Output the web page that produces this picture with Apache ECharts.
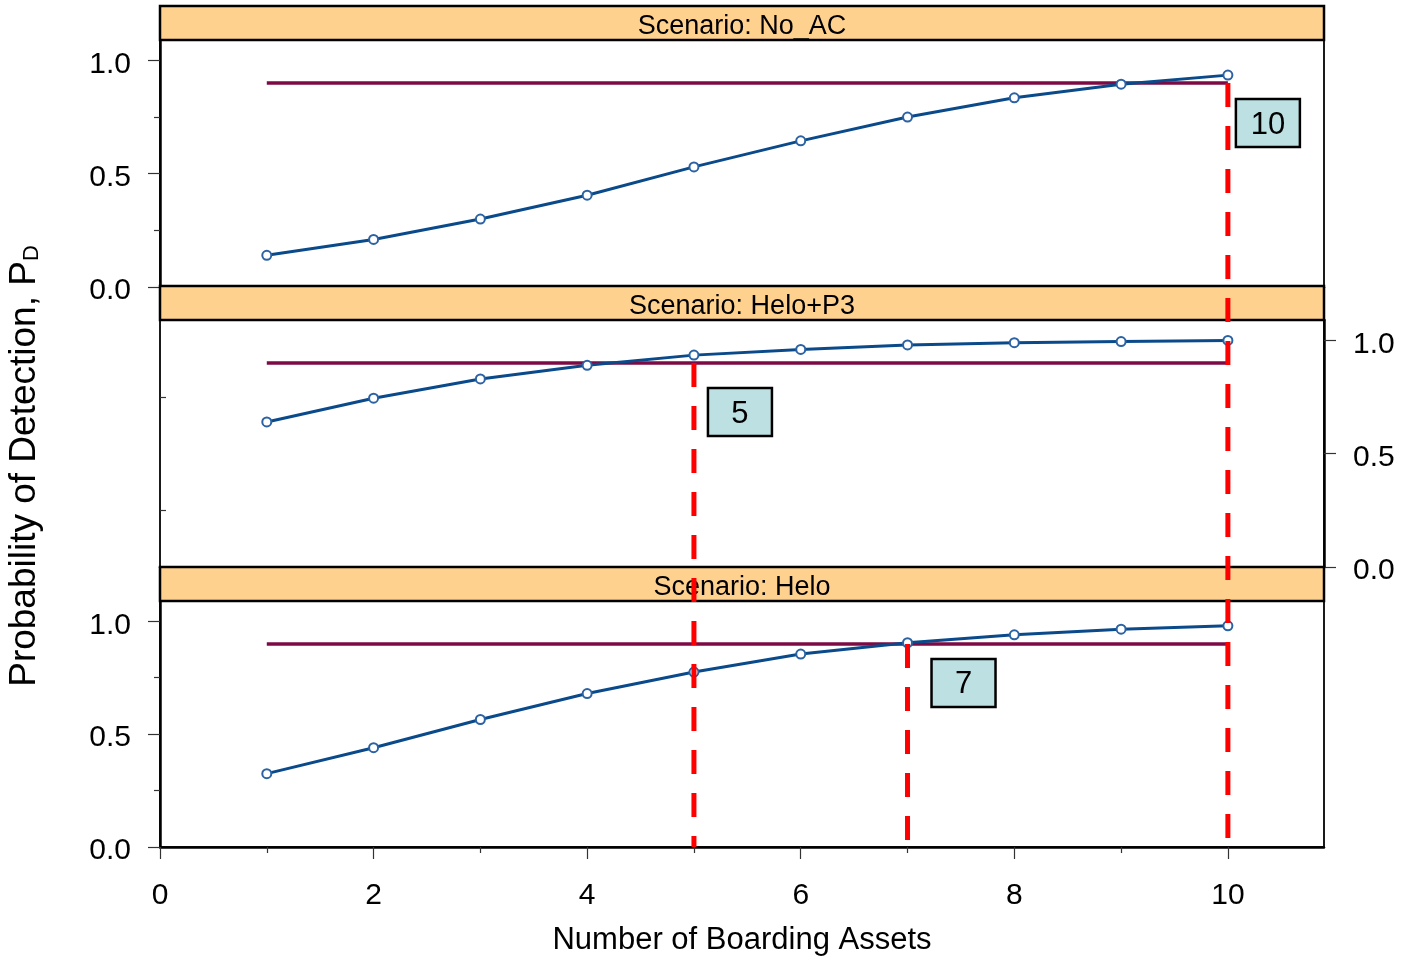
<!DOCTYPE html>
<html>
<head>
<meta charset="utf-8">
<title>Probability of Detection vs Number of Boarding Assets</title>
<script src="https://cdn.jsdelivr.net/npm/echarts@6/dist/echarts.min.js"></script>
<style>
  html, body { margin: 0; padding: 0; background: #ffffff; }
  #chart { width: 1402px; height: 959px; }
</style>
</head>
<body>
<div id="chart"></div>
<script>
// ---- data ----
const assets = [1, 2, 3, 4, 5, 6, 7, 8, 9, 10];
const pdNoAC   = [0.14, 0.21, 0.30, 0.405, 0.53, 0.645, 0.75, 0.835, 0.895, 0.935];
const pdHeloP3 = [0.64, 0.745, 0.83, 0.89, 0.935, 0.96, 0.98, 0.99, 0.995, 1.0];
const pdHelo   = [0.325, 0.44, 0.565, 0.68, 0.775, 0.855, 0.905, 0.94, 0.965, 0.98];
const targetPd = 0.9;
const panelTitles = ['Scenario: No_AC', 'Scenario: Helo+P3', 'Scenario: Helo'];
const xMajorTicks = [0, 2, 4, 6, 8, 10];
const xMinorTicks = [1, 3, 5, 7, 9];
const yMajorTicks = [0, 0.5, 1.0];
const yMinorTicks = [0.25, 0.75];
// assets needed to reach the target, and the panel whose target line the marker starts from
const requiredAssets = [10, 5, 7];
const requiredFromPanel = [0, 1, 2];

// ---- layout / style ----
const FONT = '"Liberation Sans", Arial, Helvetica, sans-serif';
const X_MAX = 10.9, Y_MAX = 1.09;
const PLOT_LEFT = 160, PLOT_WIDTH = 1164;
const panels = [
  { top: 40,  height: 247, yPos: 'left'  },
  { top: 320, height: 247, yPos: 'right' },
  { top: 601, height: 246, yPos: 'left'  }
];
const HEADER_H = 34;
const seriesByPanel = [pdNoAC, pdHeloP3, pdHelo];
// label box placement relative to the cut-off line (px)
const boxOffsets = [[8, 16], [14, 25], [24, 15]];

const chart = echarts.init(document.getElementById('chart'), null, { renderer: 'canvas' });

const grids = [], xAxes = [], yAxes = [], series = [];
panels.forEach((p, i) => {
  grids.push({
    left: PLOT_LEFT, width: PLOT_WIDTH, top: p.top, height: p.height,
    show: true, borderColor: '#1a1a1a', borderWidth: 2, backgroundColor: '#ffffff',
    containLabel: false, outerBoundsMode: 'none'
  });
  const isBottom = i === panels.length - 1;
  // main x axis
  xAxes.push({
    type: 'value', gridIndex: i, min: 0, max: X_MAX, position: 'bottom',
    axisLine: { show: true, onZero: false, lineStyle: { color: '#000', width: 2.5 } },
    axisTick: { show: isBottom, customValues: xMajorTicks, length: 12, lineStyle: { color: '#333', width: 1.2 } },
    axisLabel: { show: isBottom, customValues: xMajorTicks, fontSize: 30, fontFamily: FONT, color: '#000', margin: 34 },
    splitLine: { show: false },
    name: isBottom ? 'Number of Boarding Assets' : '',
    nameLocation: 'middle', nameGap: 78,
    nameTextStyle: { fontSize: 31, fontFamily: FONT, color: '#000' }
  });
  // main y axis
  yAxes.push({
    type: 'value', gridIndex: i, min: 0, max: Y_MAX, position: p.yPos,
    axisLine: { show: true, onZero: false, lineStyle: { color: '#000', width: 2.5 } },
    axisTick: { show: true, customValues: yMajorTicks, length: 12, lineStyle: { color: '#333', width: 1.2 } },
    axisLabel: {
      show: true, customValues: yMajorTicks, fontSize: 30, fontFamily: FONT, color: '#000', margin: 29,
      verticalAlign: 'top', lineHeight: 8,
      formatter: v => Number(v).toFixed(1)
    },
    splitLine: { show: false }
  });
});
// minor tick axes
panels.forEach((p, i) => {
  yAxes.push({
    type: 'value', gridIndex: i, min: 0, max: Y_MAX, position: p.yPos, offset: 0,
    axisLine: { show: false },
    axisTick: { show: true, customValues: yMinorTicks, length: 6, lineStyle: { color: '#333', width: 1.2 } },
    axisLabel: { show: false },
    splitLine: { show: false }
  });
});
xAxes.push({
  type: 'value', gridIndex: 2, min: 0, max: X_MAX, position: 'bottom', offset: 0,
  axisLine: { show: false },
  axisTick: { show: true, customValues: xMinorTicks, length: 6, lineStyle: { color: '#333', width: 1.2 } },
  axisLabel: { show: false },
  splitLine: { show: false }
});

panels.forEach((p, i) => {
  series.push({
    type: 'line', xAxisIndex: i, yAxisIndex: i, z: 2,
    data: [[assets[0], targetPd], [assets[assets.length - 1], targetPd]],
    symbol: 'none', silent: true,
    lineStyle: { color: '#7d0a45', width: 3.5 }
  });
  series.push({
    type: 'line', xAxisIndex: i, yAxisIndex: i, z: 3,
    data: assets.map((a, k) => [a, seriesByPanel[i][k]]),
    symbol: 'emptyCircle', symbolSize: 9,
    itemStyle: { color: '#2b62a3', borderWidth: 1 },
    lineStyle: { color: '#0a4a8a', width: 3 }
  });
});

chart.setOption({
  animation: false,
  backgroundColor: '#ffffff',
  grid: grids, xAxis: xAxes, yAxis: yAxes, series: series
});

// ---- overlay: panel headers, cut-off markers, axis title ----
const graphics = [];
panels.forEach((p, i) => {
  const y0 = p.top - HEADER_H;
  graphics.push({
    type: 'rect', z: 50,
    shape: { x: PLOT_LEFT, y: y0, width: PLOT_WIDTH, height: HEADER_H },
    style: { fill: '#fed18f', stroke: '#000', lineWidth: 2.5 }
  });
  graphics.push({
    type: 'text', z: 51,
    x: PLOT_LEFT + PLOT_WIDTH / 2, y: y0 + HEADER_H / 2 + 4,
    style: { text: panelTitles[i], fontSize: 27, fontFamily: FONT, fill: '#000', align: 'center', verticalAlign: 'middle' }
  });
});

requiredAssets.forEach((n, k) => {
  const top = chart.convertToPixel({ gridIndex: requiredFromPanel[k] }, [n, targetPd]);
  const bottom = chart.convertToPixel({ gridIndex: 2 }, [n, 0]);
  graphics.push({
    type: 'line', z: 100,
    shape: { x1: top[0], y1: top[1], x2: bottom[0], y2: bottom[1] },
    style: { stroke: '#ff0000', lineWidth: 5, lineDash: [24, 19] }
  });
  const bx = top[0] + boxOffsets[k][0], by = top[1] + boxOffsets[k][1];
  graphics.push({
    type: 'rect', z: 101,
    shape: { x: bx, y: by, width: 64, height: 48 },
    style: { fill: '#bde0e3', stroke: '#000', lineWidth: 2.5 }
  });
  graphics.push({
    type: 'text', z: 102,
    x: bx + 32, y: by + 26,
    style: { text: String(n), fontSize: 31, fontFamily: FONT, fill: '#000', align: 'center', verticalAlign: 'middle' }
  });
});

graphics.push({
  type: 'text', z: 60,
  x: 22, y: 466, rotation: Math.PI / 2,
  style: {
    text: '{a|Probability of Detection, P}{b|D}',
    align: 'center', verticalAlign: 'middle',
    rich: {
      a: { fontSize: 37, fontFamily: FONT, fill: '#000', lineHeight: 42, verticalAlign: 'bottom' },
      b: { fontSize: 22, fontFamily: FONT, fill: '#000', lineHeight: 12, verticalAlign: 'bottom' }
    }
  }
});

chart.setOption({ graphic: graphics });
</script>
</body>
</html>
